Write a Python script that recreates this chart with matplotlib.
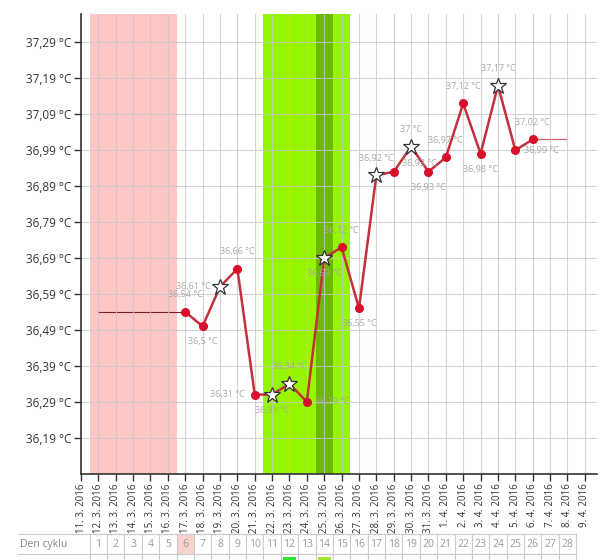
import matplotlib.pyplot as plt
from matplotlib.patches import Rectangle

plt.rcParams['font.family'] = ['Open Sans', 'DejaVu Sans']

# x axis dates (index 0 = 11. 3. 2016, cycle day 1 = 12. 3. 2016)
date_labels = ['11. 3. 2016', '12. 3. 2016', '13. 3. 2016', '14. 3. 2016', '15. 3. 2016',
               '16. 3. 2016', '17. 3. 2016', '18. 3. 2016', '19. 3. 2016', '20. 3. 2016',
               '21. 3. 2016', '22. 3. 2016', '23. 3. 2016', '24. 3. 2016', '25. 3. 2016',
               '26. 3. 2016', '27. 3. 2016', '28. 3. 2016', '29. 3. 2016', '30. 3. 2016',
               '31. 3. 2016', '1. 4. 2016', '2. 4. 2016', '3. 4. 2016', '4. 4. 2016',
               '5. 4. 2016', '6. 4. 2016', '7. 4. 2016', '8. 4. 2016', '9. 4. 2016']

# measured temperatures, cycle days 6..26
temp_days = list(range(6, 27))
temps = [36.54, 36.50, 36.61, 36.66, 36.31, 36.31, 36.34, 36.29, 36.69, 36.72, 36.55,
         36.92, 36.93, 37.00, 36.93, 36.97, 37.12, 36.98, 37.17, 36.99, 37.02]
star_days = [8, 11, 12, 14, 17, 19, 24]
# where the value label sits relative to the point
label_side = ['up', 'down', 'left', 'up', 'left', 'down', 'up', 'right', 'down', 'up', 'down',
              'up', 'upright', 'up', 'down', 'up', 'up', 'down', 'up', 'right', 'up']

y_ticks = [36.19, 36.29, 36.39, 36.49, 36.59, 36.69, 36.79, 36.89, 36.99, 37.09, 37.19, 37.29]

cycle_days = list(range(1, 29))
menstruation = (1, 5)
fertile = (11, 15)
ovulation = 14
cycle_row2_marks = {12: '#2ee62e', 14: '#9ee82c'}

fig = plt.figure(figsize=(6, 5.6), dpi=100)
ax = fig.add_axes([0.135, 0.1536, 0.86, 0.8214])

ax.axvspan(menstruation[0] - 0.5, menstruation[1] + 0.5, color='#ffc6c6', zorder=0, lw=0)
ax.axvspan(fertile[0] - 0.5, fertile[1] + 0.5, color='#96f500', zorder=0, lw=0)
ax.axvspan(ovulation - 0.5, ovulation + 0.5, color='#6fb800', zorder=0, lw=0)

# flat lead-in and tail lines
ax.plot([1, temp_days[0]], [temps[0], temps[0]], color='#7a1f1f', lw=0.8, zorder=2)
ax.plot([temp_days[-1], 28], [temps[-1], temps[-1]], color='#d06060', lw=0.9, zorder=2)

ax.plot(temp_days, temps, color='#c4303c', lw=1.8, zorder=3)
dots = [(d, t) for d, t in zip(temp_days, temps) if d not in star_days]
stars = [(d, t) for d, t in zip(temp_days, temps) if d in star_days]
ax.plot([d for d, _ in dots], [t for _, t in dots], 'o', color='#d8102a', ms=5.5, zorder=4)
ax.plot([d for d, _ in stars], [t for _, t in stars], '*', mfc='white', mec='#333333',
        mew=0.9, ms=12, zorder=5)

offsets = {'up': (0, 9, 'center', 'bottom'), 'down': (0, -8, 'center', 'top'),
           'left': (-7, 0, 'right', 'center'), 'right': (6, 0, 'left', 'center'),
           'upright': (6, 6, 'left', 'center')}
for d, t, side in zip(temp_days, temps, label_side):
    dx, dy, ha, va = offsets[side]
    txt = ('%g' % t).replace('.', ',') + ' °C'
    ax.annotate(txt, (d, t), xytext=(dx, dy), textcoords='offset points', ha=ha, va=va,
                fontsize=6.5, color='#a8a8a8', zorder=6)

ax.set_xlim(0, 29.7)
ax.set_ylim(36.089, 37.369)
ax.set_xticks(range(len(date_labels)))
ax.set_xticklabels(date_labels, rotation=90, fontsize=7, color='#333333')
ax.set_yticks(y_ticks)
ax.set_yticklabels([('%.2f' % v).replace('.', ',') + ' °C' for v in y_ticks],
                   fontsize=8.5, color='#333333')
ax.tick_params(length=5, width=1, color='#333333', pad=2)
ax.grid(True, color='#c8c8c8', lw=0.8, alpha=0.8, zorder=1)
ax.set_axisbelow(False)
for s in ['top', 'right']:
    ax.spines[s].set_visible(False)
for s in ['left', 'bottom']:
    ax.spines[s].set_color('#333333')
    ax.spines[s].set_linewidth(1.2)
    ax.spines[s].set_zorder(7)

# cycle day table
tab = fig.add_axes([0.135, -0.025, 0.86, 0.0714])
tab.set_xlim(0, 29.7)
tab.set_ylim(0, 2)
tab.axis('off')
tab.plot([-3.62, 28.5], [2, 2], color='#cccccc', lw=0.8, clip_on=False)
tab.plot([-3.62, 28.5], [1, 1], color='#cccccc', lw=0.8, clip_on=False)
tab.text(-3.5, 1.5, 'Den cyklu', fontsize=7.5, color='#888888', va='center', ha='left')
for c in cycle_days:
    face = '#f8d4cc' if c == 6 else 'white'
    tab.add_patch(Rectangle((c - 0.5, 1), 1, 1, fc=face, ec='#cccccc', lw=0.8, clip_on=False))
    tab.text(c, 1.5, str(c), fontsize=7.5, color='#999999', ha='center', va='center')
    tab.add_patch(Rectangle((c - 0.5, 0), 1, 1, fc='white', ec='#cccccc', lw=0.8, clip_on=False))
for c, col in cycle_row2_marks.items():
    tab.add_patch(Rectangle((c - 0.38, 0.1), 0.76, 0.75, fc=col, lw=0, clip_on=False))

fig.savefig('out.png', dpi=100)
